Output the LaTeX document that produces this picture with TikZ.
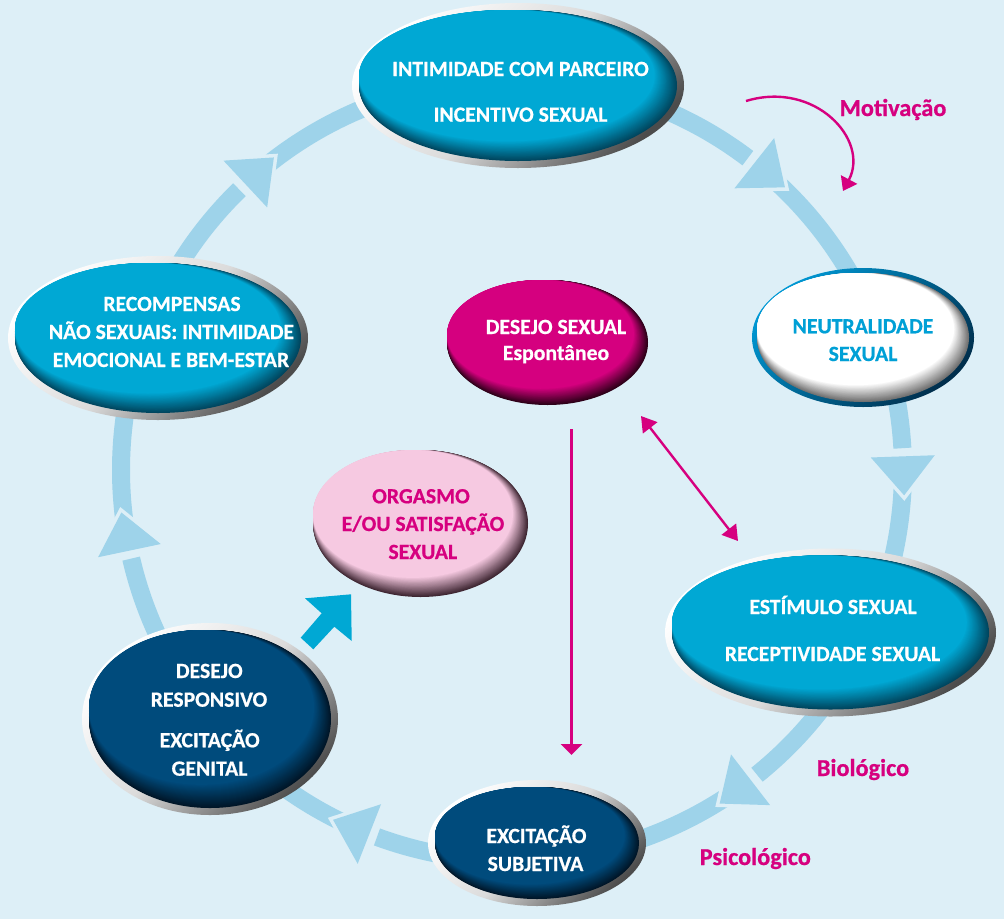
\documentclass[tikz,border=0pt]{standalone}
\usepackage{fontspec}
\setmainfont{Carlito}[BoldFeatures={FakeBold=0.6}]
\usetikzlibrary{shapes.geometric, arrows.meta, calc}

% palette
\definecolor{bg}{HTML}{DDEFF7}
\definecolor{ring}{HTML}{9ED3EA}
\definecolor{cyA}{HTML}{00A8D4}
\definecolor{cyD}{HTML}{00465F}
\definecolor{navA}{HTML}{004B7C}
\definecolor{navD}{HTML}{001628}
\definecolor{magA}{HTML}{D5007F}
\definecolor{magD}{HTML}{2C0018}
\definecolor{pkA}{HTML}{F6C9E1}
\definecolor{pkD}{HTML}{3E2632}
\definecolor{whA}{HTML}{FFFFFF}
\definecolor{whD}{HTML}{707070}
\definecolor{rimblue}{HTML}{0098D4}
\definecolor{rimnavy}{HTML}{002E4C}
\definecolor{neutext}{HTML}{00A0D6}
\definecolor{mag}{HTML}{D6007F}

% glossy oval: stacked ellipses, dark at the lower right edge, flat colour inside
% #1 centre, #2 x radius, #3 y radius, #4 inner colour, #5 edge colour
\newcommand\glossyoval[5]{%
  \foreach \k in {0,...,24} {
    \pgfmathsetmacro\f{\k/24}
    \pgfmathtruncatemacro\p{100*\f}
    \fill[#4!\p!#5] ($(#1)+({-0.07*#2*\f},{-0.13*#3*\f})$)
      ellipse [x radius={#2*(1-0.07*\f)}, y radius={#3*(1-0.13*\f)}];
  }%
}

\begin{document}
\begin{tikzpicture}[x=1pt, y=-1pt,
  oval/.style={ellipse, inner sep=0pt, outer sep=0pt},
  silverrim/.style={shade, top color=white, bottom color=black!70,
    middle color=black!14, shading angle=45},
  bluerim/.style={shade, top color=rimblue, bottom color=rimnavy, shading angle=45},
  ringarc/.style={draw=ring, line width=18pt},
  txt/.style={font=\bfseries\fontsize{21.7}{26}\selectfont, text=white,
    inner sep=0pt, anchor=base},
  cuelabel/.style={font=\bfseries\fontsize{24.3}{29}\selectfont, text=mag,
    inner sep=0pt, anchor=base},
  pinkline/.style={draw=mag, line width=2.4pt},
]
\fill[bg] (0,0) rectangle (1004,919);
\useasboundingbox (0,0) rectangle (1004,919);

% ---- the cycle ring -------------------------------------------------
\coordinate (c) at (512,470);
\foreach \ang/\bng in {227/307.1, 308.3/356.8, 358/411.2, 412.4/470.2,
                       471.4/526.9, 528.1/585.8}
  \draw[ringarc] ($(c)+(\ang:391)$) arc[start angle=\ang, end angle=\bng, radius=391];

\foreach \ang in {227, 308.3, 358, 52.4, 111.4, 168.1} {
  \pgfmathsetmacro\tang{\ang+90}
  \coordinate (h1) at ($(c)+(\ang:359)$);
  \coordinate (h2) at ($(c)+(\ang:423)$);
  \coordinate (h3) at ($(c)+(\ang:391)+(\tang:39)$);
  \draw[draw=bg, line width=7pt, line join=miter] (h1)--(h3)--(h2)--cycle;
  \fill[ring] (h1)--(h3)--(h2)--cycle;
}

% ---- ovals ------------------------------------------------------------
\node[oval, silverrim, minimum width=332pt, minimum height=165pt] (incentivo-rim) at (518,85.5) {};
\glossyoval{incentivo-rim.center}{159}{75.5}{cyA}{cyD}
\node[oval, minimum width=318pt, minimum height=151pt] (incentivo) at (518,85.5) {};

\node[oval, bluerim, minimum width=222pt, minimum height=139pt] (neutral-rim) at (863,337.5) {};
\glossyoval{neutral-rim.center}{106}{64.5}{whA}{whD}
\node[oval, minimum width=212pt, minimum height=129pt] (neutral) at (863,337.5) {};

\node[oval, silverrim, minimum width=331pt, minimum height=168pt] (estimulo-rim) at (830.5,632.5) {};
\glossyoval{estimulo-rim.center}{158.5}{77}{cyA}{cyD}
\node[oval, minimum width=317pt, minimum height=154pt] (estimulo) at (830.5,632.5) {};

\node[oval, silverrim, minimum width=218pt, minimum height=126pt] (subjetiva-rim) at (537,843) {};
\glossyoval{subjetiva-rim.center}{102}{56}{navA}{navD}
\node[oval, minimum width=204pt, minimum height=112pt] (subjetiva) at (537,843) {};

\node[oval, silverrim, minimum width=256pt, minimum height=192pt] (responsivo-rim) at (210,719) {};
\glossyoval{responsivo-rim.center}{121}{89}{navA}{navD}
\node[oval, minimum width=242pt, minimum height=178pt] (responsivo) at (210,719) {};

\node[oval, silverrim, minimum width=300pt, minimum height=164pt] (recompensas-rim) at (158,338) {};
\glossyoval{recompensas-rim.center}{143}{75}{cyA}{cyD}
\node[oval, minimum width=286pt, minimum height=150pt] (recompensas) at (158,338) {};

\coordinate (espontaneo-c) at (547.5,342.5);
\glossyoval{espontaneo-c}{100.5}{62.5}{magA}{magD}
\node[oval, minimum width=201pt, minimum height=125pt] (espontaneo) at (espontaneo-c) {};

\coordinate (orgasmo-c) at (420.5,523.5);
\glossyoval{orgasmo-c}{107.5}{73.5}{pkA}{pkD}
\node[oval, minimum width=215pt, minimum height=147pt] (orgasmo) at (orgasmo-c) {};

% ---- texts --------------------------------------------------------------
\node[txt] (t-inc1) at (520.5,76) {INTIMIDADE COM PARCEIRO};
\node[txt] (t-inc2) at (520.5,121.7) {INCENTIVO SEXUAL};

\node[txt, text=neutext] (t-neu1) at (863,333.3) {NEUTRALIDADE};
\node[txt, text=neutext] (t-neu2) at (863,361) {SEXUAL};

\node[txt] (t-est1) at (833,614) {ESTÍMULO SEXUAL};
\node[txt] (t-est2) at (832.5,661) {RECEPTIVIDADE SEXUAL};

\node[txt] (t-sub1) at (536.5,843) {EXCITAÇÃO};
\node[txt] (t-sub2) at (535.5,871) {SUBJETIVA};

\node[txt] (t-res1) at (209.3,678) {DESEJO};
\node[txt] (t-res2) at (209,706.7) {RESPONSIVO};
\node[txt] (t-res3) at (209.7,747.3) {EXCITAÇÃO};
\node[txt] (t-res4) at (209.5,775.7) {GENITAL};

\node[txt] (t-rec1) at (172,311) {RECOMPENSAS};
\node[txt] (t-rec2) at (171.5,339) {NÃO SEXUAIS: INTIMIDADE};
\node[txt] (t-rec3) at (171,367) {EMOCIONAL E BEM-ESTAR};

\node[txt] (t-esp1) at (556,334) {DESEJO SEXUAL};
\node[txt] (t-esp2) at (556,360) {Espontâneo};

\node[txt, text=mag] (t-org1) at (421,503.3) {ORGASMO};
\node[txt, text=mag] (t-org2) at (423,531) {E/OU SATISFAÇÃO};
\node[txt, text=mag] (t-org3) at (422.8,559) {SEXUAL};

\node[cuelabel] (motivacao) at (893,116) {Motivação};
\node[cuelabel] (biologico) at (863,776) {Biológico};
\node[cuelabel] (psicologico) at (755.3,865) {Psicológico};

% ---- magenta connectors ---------------------------------------------------
\coordinate (v1) at (571.5,429);
\coordinate (v2) at (571.5,755);
\draw[pinkline, -{Triangle[width=21pt,length=11pt]}] (v1) -- (v2);

\coordinate (d1) at (641,416);
\coordinate (d2) at (738,541);
\draw[pinkline, {Triangle[width=18pt,length=15pt]}-{Triangle[width=18pt,length=15pt]}] (d1) -- (d2);

\coordinate (m1) at (746,101);
\coordinate (m2) at (843,191);
\draw[pinkline, -{Triangle[width=18pt,length=13pt]}] (m1) .. controls (815,80) and (870,140) .. (m2);

% ---- block arrow towards orgasm -------------------------------------------
\fill[cyA] (300.7,637.7) -- (321.7,613.3) -- (305,598.3) -- (351,594.3)
  -- (351.7,641) -- (334.3,626.7) -- (313.3,649.3) -- cycle;
\end{tikzpicture}
\end{document}
